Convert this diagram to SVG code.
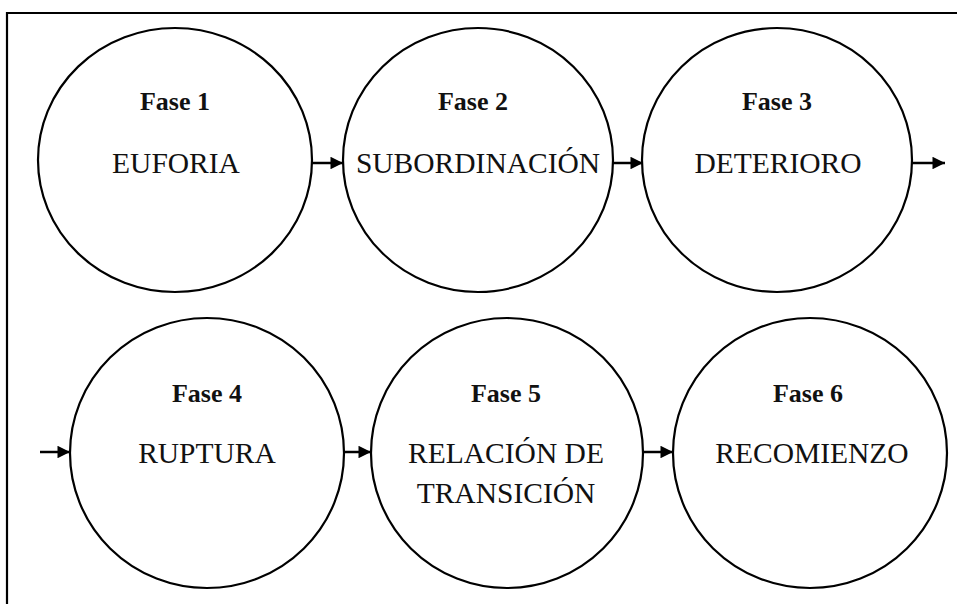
<svg xmlns="http://www.w3.org/2000/svg" width="957" height="604" viewBox="0 0 957 604">
<style>
.n{fill:#fff;stroke:#000;stroke-width:2.2}
.t{font-family:"Liberation Serif",serif;font-weight:bold;font-size:26px;text-anchor:middle;fill:#111}
.l{font-family:"Liberation Serif",serif;font-size:29.5px;text-anchor:middle;fill:#111}
.c{stroke:#000;stroke-width:2.5;fill:none}
</style>
<defs>
<marker id="ah" viewBox="0 0 10 10" refX="10" refY="5" markerWidth="6.5" markerHeight="5" markerUnits="strokeWidth" orient="auto"><path d="M0,0L10,5L0,10z" fill="#000"/></marker>
</defs>
<rect width="957" height="604" fill="#fff"/>
<path d="M7,604V13H957" fill="none" stroke="#000" stroke-width="2.2"/>
<g id="fase1"><ellipse class="n" cx="175" cy="160" rx="137" ry="132"/><text class="t" x="175" y="110">Fase 1</text><text class="l" x="176" y="173">EUFORIA</text></g>
<g id="fase2"><ellipse class="n" cx="478" cy="160" rx="135" ry="132"/><text class="t" x="473" y="110">Fase 2</text><text class="l" x="478" y="173">SUBORDINACIÓN</text></g>
<g id="fase3"><ellipse class="n" cx="777" cy="160" rx="135" ry="132"/><text class="t" x="777" y="110">Fase 3</text><text class="l" x="778" y="173">DETERIORO</text></g>
<g id="fase4"><ellipse class="n" cx="207" cy="453" rx="137" ry="135"/><text class="t" x="207" y="402">Fase 4</text><text class="l" x="207" y="463">RUPTURA</text></g>
<g id="fase5"><ellipse class="n" cx="507" cy="453" rx="136" ry="135"/><text class="t" x="506" y="402">Fase 5</text><text class="l" x="506" y="463">RELACIÓN DE</text><text class="l" x="506" y="503">TRANSICIÓN</text></g>
<g id="fase6"><ellipse class="n" cx="810" cy="453" rx="137" ry="135"/><text class="t" x="808" y="402">Fase 6</text><text class="l" x="812" y="463">RECOMIENZO</text></g>
<g id="connectors">
<line class="c" x1="312" y1="163" x2="343" y2="163" marker-end="url(#ah)"/>
<line class="c" x1="613" y1="163" x2="643" y2="163" marker-end="url(#ah)"/>
<line class="c" x1="912" y1="163" x2="945" y2="163" marker-end="url(#ah)"/>
<line class="c" x1="40" y1="452" x2="70" y2="452" marker-end="url(#ah)"/>
<line class="c" x1="344" y1="452" x2="371" y2="452" marker-end="url(#ah)"/>
<line class="c" x1="643" y1="452" x2="673" y2="452" marker-end="url(#ah)"/>
</g>
</svg>
